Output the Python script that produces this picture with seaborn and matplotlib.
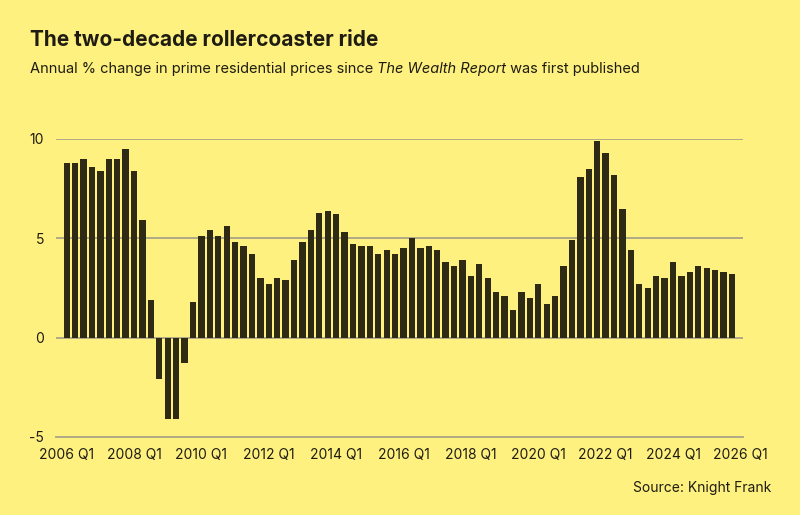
import pandas as pd
import matplotlib
matplotlib.use("Agg")
import matplotlib.pyplot as plt
import seaborn as sns

# Annual % change in prime residential prices, quarterly 2006 Q1 - 2025 Q4
years = list(range(2006, 2026))
quarters = [f"{y} Q{q}" for y in years for q in range(1, 5)]
change = [
    8.8, 8.8, 9.0, 8.6, 8.4, 9.0, 9.0, 9.5,   # 2006-2007
    8.4, 5.9, 1.9, -2.1, -4.1, -4.1, -1.3, 1.8,   # 2008-2009
    5.1, 5.4, 5.1, 5.6, 4.8, 4.6, 4.2, 3.0,   # 2010-2011
    2.7, 3.0, 2.9, 3.9, 4.8, 5.4, 6.3, 6.4,   # 2012-2013
    6.2, 5.3, 4.7, 4.6, 4.6, 4.2, 4.4, 4.2,   # 2014-2015
    4.5, 5.0, 4.5, 4.6, 4.4, 3.8, 3.6, 3.9,   # 2016-2017
    3.1, 3.7, 3.0, 2.3, 2.1, 1.4, 2.3, 2.0,   # 2018-2019
    2.7, 1.7, 2.1, 3.6, 4.9, 8.1, 8.5, 9.9,   # 2020-2021
    9.3, 8.2, 6.5, 4.4, 2.7, 2.5, 3.1, 3.0,   # 2022-2023
    3.8, 3.1, 3.3, 3.6, 3.5, 3.4, 3.3, 3.2,   # 2024-2025
]
tick_labels = [f"{y} Q1" for y in range(2006, 2027, 2)]
y_ticks = [-5, 0, 5, 10]

BG = "#FEF180"
BAR = "#2E2A13"
GRID = "#A8A486"
TEXT = "#1F1D12"

df = pd.DataFrame({"quarter": quarters, "change": change})

sns.set_theme(style="white")
plt.rcParams["font.family"] = ["Inter", "DejaVu Sans"]

fig = plt.figure(figsize=(8, 5.15), dpi=100, facecolor=BG)
ax = fig.add_axes([56 / 800, 1 - 437 / 515, (742.5 - 56) / 800, (437 - 139) / 515])
ax.set_facecolor(BG)

sns.barplot(data=df, x="quarter", y="change", color=BAR, saturation=1,
            width=0.75, linewidth=0, edgecolor="none", ax=ax, zorder=3)

for v in [0, 5, 10]:
    ax.axhline(v, color=GRID, lw=1.3, zorder=1)

ax.set_ylim(-5, 10)
ax.set_xlim(-1.27, 80.25)
ax.set_yticks(y_ticks)
ax.set_yticklabels([str(v) for v in y_ticks], fontsize=10, color=TEXT)
ax.set_xticks(range(0, 81, 8))
ax.set_xticklabels(tick_labels, fontsize=10, color=TEXT)
ax.tick_params(axis="x", length=5, width=1.2, color=GRID, pad=3)
ax.tick_params(axis="y", length=0, pad=8.5)
ax.set_xlabel("")
ax.set_ylabel("")

for s in ["top", "right", "left"]:
    ax.spines[s].set_visible(False)
ax.spines["bottom"].set_color(GRID)
ax.spines["bottom"].set_linewidth(1.3)

fig.text(30 / 800, 1 - 40 / 515, "The two-decade rollercoaster ride",
         fontsize=15, fontweight="bold", color=TEXT, va="center")

# subtitle with italic report name
fig.canvas.draw()
r = fig.canvas.get_renderer()
sub_y = 1 - 69 / 515
x0 = 30 / 800
parts = [("Annual % change in prime residential prices since ", "normal"),
         ("The Wealth Report", "italic"),
         (" was first published", "normal")]
for txt, style in parts:
    t = fig.text(x0, sub_y, txt, fontsize=10.5, style=style, color=TEXT, va="center")
    bb = t.get_window_extent(renderer=r)
    x0 += bb.width / fig.bbox.width

fig.text(771 / 800, 1 - 488 / 515, "Source: Knight Frank", fontsize=10,
         color=TEXT, ha="right", va="center")

fig.savefig("out.png", dpi=100, facecolor=BG)
